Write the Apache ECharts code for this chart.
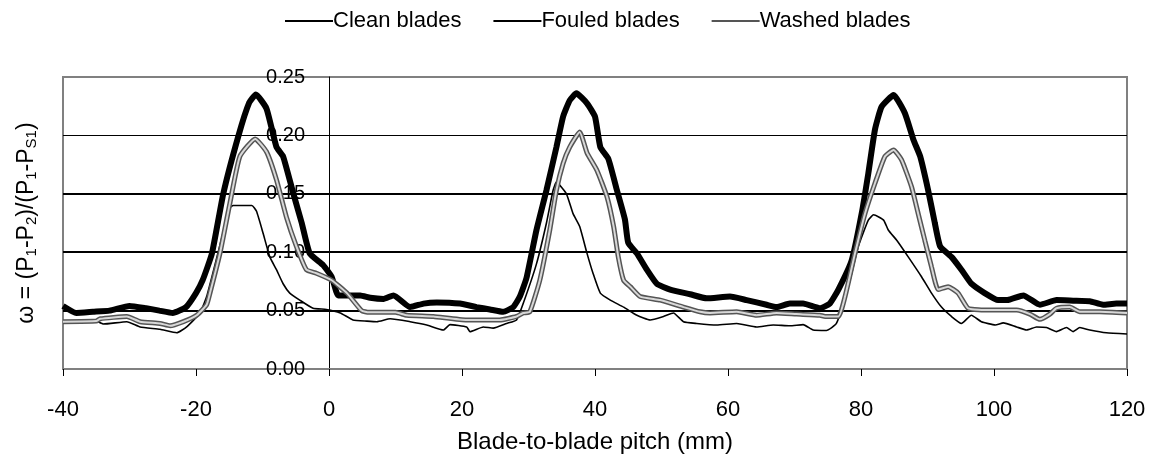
<!DOCTYPE html>
<html><head><meta charset="utf-8">
<script src="https://cdn.jsdelivr.net/npm/echarts@6/dist/echarts.min.js"></script>
<style>html,body{margin:0;padding:0;background:#fff}#c{width:1156px;height:465px}</style>
</head><body><div id="c"></div>
<script>
const seriesNames = ['Clean blades', 'Fouled blades', 'Washed blades'];

const cleanX = [-40,-35.4,-33.9,-30.4,-28.4,-25.4,-22.9,-21.4,-19.4,-18.4,-17.2,-16,-14.9,-14.4,-11.6,-10.9,-9.9,-8.9,-7.9,-6.9,-5.9,-4.4,-2.4,-0.4,1.7,3.6,5.7,7.2,9.2,12.2,14.7,17.2,18.2,20.7,21.2,23.2,24.7,26.7,28.2,29.2,31.2,32.7,33.7,34.2,35.7,36.7,37.7,38.8,39.7,40.8,42.3,44.3,46.3,48.3,50.3,51.8,53.3,55.3,58.3,61.3,64.3,66.8,69.3,71.3,72.8,74.8,76.3,78.1,79.6,81.1,81.9,83.4,84.1,85.4,87.1,89.1,90.6,92.1,93.6,95.1,96.6,98.1,100.2,101.4,103.4,104.9,106.4,107.9,109.4,110.9,111.9,112.9,114.4,116.9,120];
const cleanY = [0.0405,0.042,0.0385,0.0405,0.036,0.034,0.031,0.036,0.048,0.062,0.088,0.115,0.138,0.140,0.140,0.135,0.116,0.096,0.085,0.073,0.065,0.059,0.052,0.051,0.048,0.042,0.041,0.0405,0.043,0.0405,0.0377,0.0334,0.038,0.036,0.032,0.036,0.035,0.039,0.042,0.056,0.090,0.125,0.153,0.160,0.150,0.133,0.122,0.099,0.082,0.065,0.059,0.053,0.046,0.042,0.045,0.048,0.0405,0.039,0.0377,0.039,0.036,0.0377,0.037,0.038,0.0334,0.033,0.039,0.0705,0.105,0.1275,0.132,0.1275,0.119,0.110,0.096,0.079,0.065,0.053,0.045,0.039,0.046,0.0405,0.0377,0.0395,0.036,0.0334,0.036,0.0355,0.032,0.0355,0.032,0.0355,0.0334,0.031,0.030];

const fouledX = [-40,-38,-35.5,-33,-30,-27.5,-25.5,-23.5,-21.5,-20,-19,-17.6,-15.9,-13.6,-12,-11,-9.4,-7.9,-6.9,-5.4,-4.1,-2.9,-0.9,0.4,1.4,3.2,4.7,6.2,8.2,9.7,12.2,14.2,16.2,19.7,22.2,24.2,26.2,27.7,28.7,29.7,31.2,32.7,34.2,35.2,36.2,37.2,38.8,40,40.8,42,43.3,44.5,45,46.3,47.8,49.3,51.3,54.3,56.8,60.3,62.8,65.8,67.3,69.3,71.3,73.8,75.3,76.6,78.6,80.1,81.1,82.1,83.1,84.9,86.6,87.9,88.9,90.1,91.1,91.9,93.6,95.1,96.6,98.6,100.6,102,104.4,106.9,109.4,111.9,114.4,116.4,118.4,120];
const fouledY = [0.054,0.048,0.049,0.050,0.054,0.052,0.050,0.048,0.053,0.065,0.076,0.099,0.150,0.200,0.228,0.235,0.223,0.190,0.182,0.151,0.125,0.099,0.089,0.079,0.063,0.063,0.063,0.061,0.060,0.063,0.053,0.056,0.057,0.056,0.053,0.051,0.049,0.053,0.062,0.078,0.119,0.153,0.190,0.216,0.230,0.236,0.2275,0.216,0.190,0.180,0.153,0.128,0.108,0.099,0.085,0.073,0.068,0.064,0.0605,0.062,0.059,0.055,0.053,0.056,0.056,0.052,0.056,0.068,0.093,0.133,0.1675,0.205,0.2245,0.2345,0.219,0.196,0.182,0.153,0.125,0.105,0.096,0.085,0.073,0.065,0.059,0.059,0.063,0.055,0.059,0.0585,0.058,0.055,0.056,0.056];

const washedX = [-40,-35,-34.4,-30.4,-28.4,-25.4,-23.9,-21.9,-19.9,-18.4,-17.9,-16.4,-14.9,-13.4,-11.1,-9.4,-7.9,-6.4,-4.9,-3.4,-1.9,0.4,2.7,4.9,6,10,11.7,15.7,20.7,25.7,28.2,29.2,30.2,31.7,33.2,34.2,35.2,36.2,37.7,38.8,40.3,41.8,42.8,43.5,44.3,45.3,46.8,49.8,53.3,55.8,57.3,61.3,64.3,67.3,70.3,73.8,74.6,76.6,77.6,79.1,80.6,82.1,83.6,84.9,86.1,87.6,88.6,89.6,90.6,91.6,93.1,94.6,96.1,98.1,100.6,103.4,105.4,106.9,108.4,109.4,111.4,112.9,115.9,120];
const washedY = [0.0405,0.041,0.043,0.045,0.0405,0.039,0.037,0.0405,0.046,0.055,0.065,0.099,0.142,0.182,0.197,0.186,0.162,0.130,0.105,0.085,0.082,0.076,0.065,0.050,0.0485,0.0485,0.046,0.045,0.042,0.042,0.045,0.048,0.049,0.076,0.119,0.153,0.176,0.190,0.203,0.185,0.170,0.1475,0.122,0.096,0.076,0.0705,0.062,0.059,0.053,0.049,0.048,0.049,0.046,0.048,0.047,0.046,0.045,0.045,0.062,0.099,0.133,0.159,0.182,0.1875,0.179,0.156,0.133,0.110,0.0875,0.068,0.0705,0.065,0.052,0.0505,0.0505,0.0505,0.047,0.0425,0.047,0.052,0.053,0.049,0.049,0.048];

const xMin = -40, xMax = 120, xStep = 20;
const yMin = 0, yMax = 0.25, yStep = 0.05;
const yAxisCrossX = 0;
const heavyGridValues = [0.05, 0.10, 0.15];
const xTitle = 'Blade-to-blade pitch (mm)';

const zip = (xs, ys) => xs.map((x, i) => [x, ys[i]]);
const FONT = '"Liberation Sans", Arial, sans-serif';
const GRID_LEFT = 63;

const chart = echarts.init(document.getElementById('c'), null, {renderer: 'canvas'});
const option = {
  backgroundColor: '#fff',
  animation: false,
  textStyle: {fontFamily: FONT},
  legend: {
    data: seriesNames,
    top: 5, left: 279,
    itemWidth: 48, itemHeight: 14, itemGap: 31,
    itemStyle: {opacity: 0},
    textStyle: {fontSize: 22, color: '#000', fontFamily: FONT, padding: [0, 0, 0, -5]}
  },
  grid: {left: GRID_LEFT, right: 29, top: 77, bottom: 96, show: true, borderColor: '#808080', borderWidth: 2, backgroundColor: '#fff', containLabel: false, outerBoundsMode: 'none'},
  xAxis: {
    type: 'value', min: xMin, max: xMax, interval: xStep,
    axisLine: {show: true, onZero: false, lineStyle: {color: '#808080', width: 2}},
    axisTick: {show: true, inside: false, length: 7, lineStyle: {color: '#000', width: 1}},
    axisLabel: {fontSize: 22, color: '#000', margin: 30, fontFamily: FONT},
    splitLine: {show: false},
    name: xTitle, nameLocation: 'middle', nameGap: 61,
    nameTextStyle: {fontSize: 24, color: '#000', fontFamily: FONT}
  },
  yAxis: {
    type: 'value', min: yMin, max: yMax, interval: yStep,
    offset: 0,
    axisLine: {show: true, onZero: false, lineStyle: {color: '#000', width: 1}},
    axisTick: {show: false},
    axisLabel: {fontSize: 20, color: '#000', margin: 24, fontFamily: FONT, formatter: v => v.toFixed(2)},
    splitLine: {show: true, lineStyle: {color: ['#808080', '#000', '#000', '#000', '#000', '#808080'], width: 1}},
    name: '{n|ω = (P}{s|1}{n|-P}{s|2}{n|)/(P}{s|1}{n|-P}{s|S1}{n|)}',
    nameLocation: 'middle', nameGap: 290, nameRotate: 90,
    nameTextStyle: {
      fontFamily: FONT,
      rich: {
        n: {fontSize: 23, color: '#000', fontFamily: FONT},
        s: {fontSize: 15, color: '#000', fontFamily: FONT, padding: [10, 0, 0, 0]}
      }
    }
  },
  series: [
    {
      name: seriesNames[0], type: 'line', data: zip(cleanX, cleanY),
      symbol: 'none', showSymbol: false, smooth: 0.15,
      lineStyle: {color: '#000', width: 1.6}, itemStyle: {color: '#000'}, z: 3,
      markLine: {
        silent: true, symbol: 'none', label: {show: false}, animation: false,
        lineStyle: {color: '#000', width: 2, type: 'solid'},
        data: heavyGridValues.map(v => ({yAxis: v}))
      }
    },
    {
      name: seriesNames[1], type: 'line', data: zip(fouledX, fouledY),
      symbol: 'none', showSymbol: false, smooth: 0.15,
      lineStyle: {color: '#000', width: 6}, itemStyle: {color: '#000'}, z: 4
    },
    {
      name: seriesNames[2], type: 'line', data: zip(washedX, washedY),
      symbol: 'none', showSymbol: false, smooth: 0.15,
      lineStyle: {color: '#555', width: 5}, itemStyle: {color: '#555'}, z: 5
    },
    {
      name: 'washed-core', type: 'line', data: zip(washedX, washedY),
      symbol: 'none', showSymbol: false, smooth: 0.15, silent: true,
      lineStyle: {color: '#d8d8d8', width: 2}, itemStyle: {color: '#d8d8d8'}, z: 6
    }
  ]
};
chart.setOption(option);
// Move the y axis (line + labels + name) so it crosses the x axis at x = 0
const crossPx = chart.convertToPixel({xAxisIndex: 0}, yAxisCrossX);
chart.setOption({yAxis: {offset: -(crossPx - GRID_LEFT)}});
</script></body></html>
